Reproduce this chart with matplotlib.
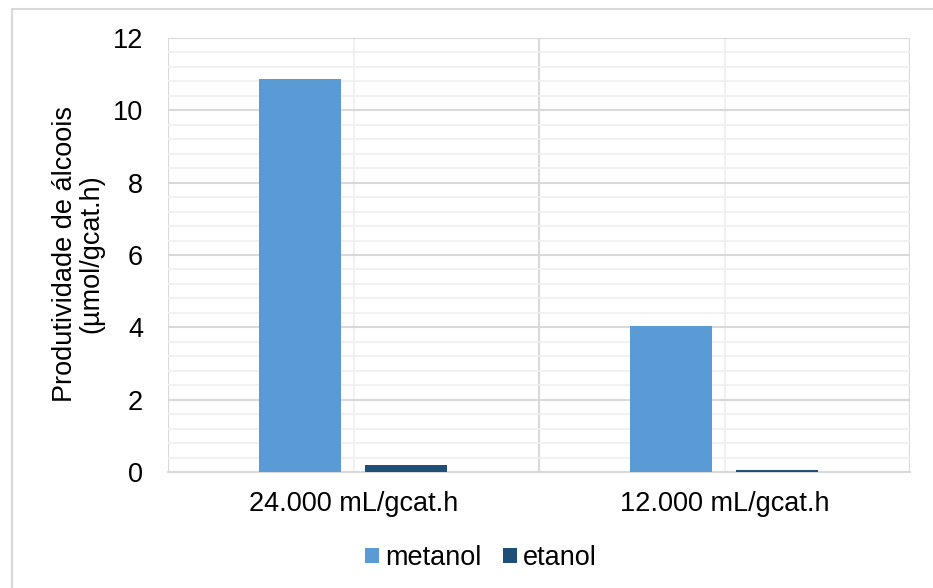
import matplotlib
matplotlib.use("Agg")
import matplotlib.pyplot as plt
from matplotlib.patches import Rectangle
from matplotlib.ticker import MultipleLocator
import numpy as np

categories = ["24.000 mL/gcat.h", "12.000 mL/gcat.h"]
metanol = [10.87, 4.04]
etanol = [0.19, 0.05]
series_names = ["metanol", "etanol"]
colors = ["#5B9BD5", "#1F4E79"]

plt.rcParams['font.family'] = ['Liberation Sans', 'DejaVu Sans']
W, H = 933, 588
FS = 19.5
fig = plt.figure(figsize=(W / 100, H / 100), dpi=100)
ax = fig.add_axes([168 / W, 1 - 472 / H, (910 - 168) / W, (472 - 38) / H])

x = np.arange(len(categories))
bw = 0.221
ax.bar(x - 0.1435, metanol, bw, color=colors[0], label=series_names[0], zorder=3)
ax.bar(x + 0.1415, etanol, bw, color=colors[1], label=series_names[1], zorder=3)

ax.set_xlim(-0.5, len(categories) - 0.5)
ax.set_ylim(0, 12)
ax.yaxis.set_major_locator(MultipleLocator(2))
ax.yaxis.set_minor_locator(MultipleLocator(0.4))
ax.set_xticks(x)
ax.set_xticklabels(categories)
ax.set_xticks(np.arange(-0.5, len(categories), 1.0), minor=True)

ax.grid(True, which='major', axis='y', color='#D9D9D9', lw=1.5, zorder=0)
ax.grid(True, which='minor', axis='y', color='#F0F0F0', lw=1.3, zorder=0)
ax.grid(True, which='minor', axis='x', color='#D9D9D9', lw=1.5, zorder=0)
ax.grid(True, which='major', axis='x', color='#F0F0F0', lw=1.3, zorder=0)

for s in ['top', 'left', 'right']:
    ax.spines[s].set_visible(False)
ax.spines['bottom'].set_color('#D9D9D9')
ax.spines['bottom'].set_linewidth(1.5)
ax.tick_params(which='both', length=0)
ax.tick_params(axis='y', pad=18, labelsize=FS, colors='black')
ax.tick_params(axis='x', pad=14, labelsize=FS, colors='black')

fig.text(78.5 / W, 1 - 254 / H, "Produtividade de álcoois\n(µmol/gcat.h)", fontsize=FS,
         rotation=90, ha='center', va='center', multialignment='center', linespacing=1.0)

leg = fig.legend(loc='center', bbox_to_anchor=(481 / W, 1 - 558 / H), ncol=2,
                 frameon=False, fontsize=FS, handlelength=0.52, handleheight=0.52,
                 handletextpad=0.22, columnspacing=0.8, borderpad=0)

fig.patches.append(Rectangle((12 / W, -0.1), 1.1, 1 - 9 / H + 0.1, transform=fig.transFigure,
                             fill=False, edgecolor='#D9D9D9', lw=1.5))

fig.savefig("out.png", dpi=100)
